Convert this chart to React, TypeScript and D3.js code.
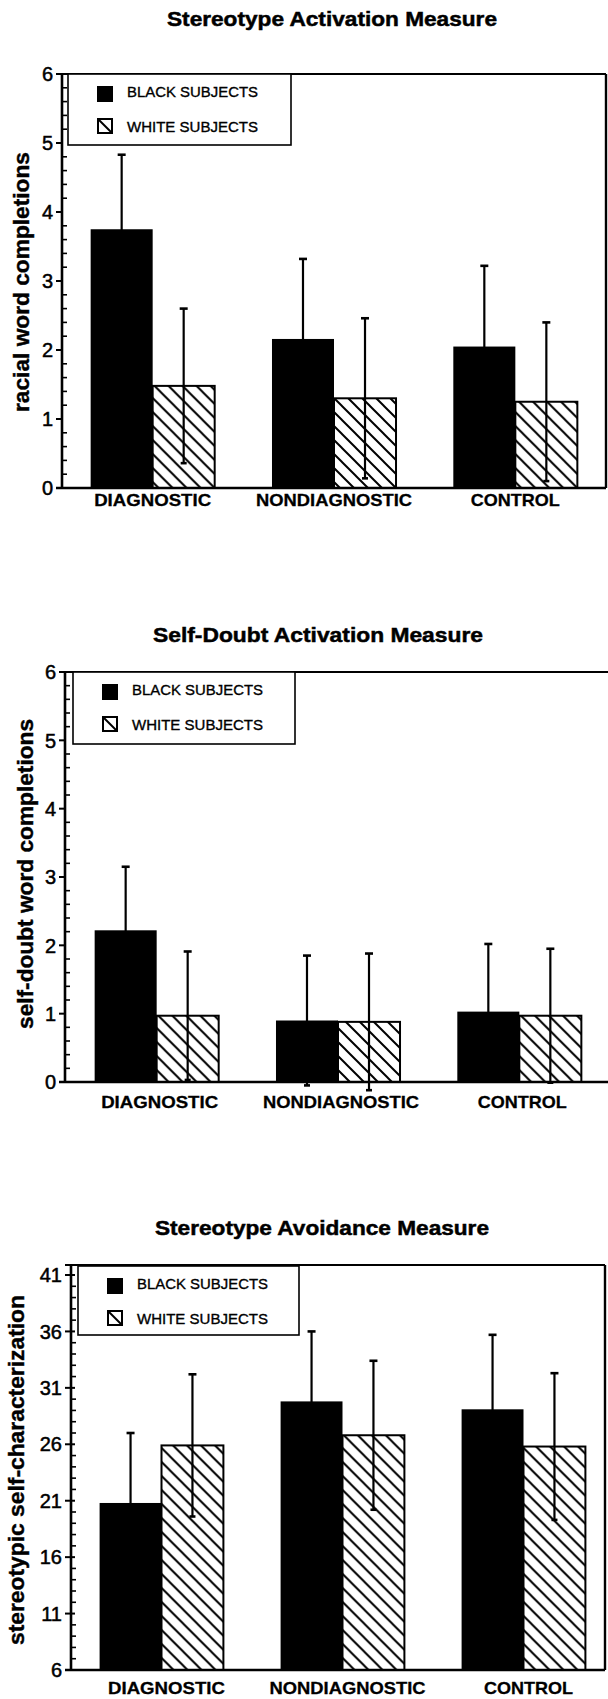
import React from 'react';
import * as d3 from 'd3';

const categories = ['DIAGNOSTIC', 'NONDIAGNOSTIC', 'CONTROL'];
const seriesNames = ['BLACK SUBJECTS', 'WHITE SUBJECTS'];

// Stereotype activation: racial word completions
const activationBlack = [3.75, 2.16, 2.05];
const activationBlackSD = [1.08, 1.16, 1.17];
const activationWhite = [1.48, 1.3, 1.25];
const activationWhiteSD = [1.12, 1.16, 1.15];
const activationTicks = [0, 1, 2, 3, 4, 5, 6];

// Self-doubt activation: self-doubt word completions
const doubtBlack = [2.22, 0.9, 1.03];
const doubtBlackSD = [0.93, 0.95, 0.99];
const doubtWhite = [0.97, 0.88, 0.97];
const doubtWhiteSD = [0.94, 1.0, 0.98];
const doubtTicks = [0, 1, 2, 3, 4, 5, 6];

// Stereotype avoidance: stereotypic self-characterization
const avoidBlack = [20.8, 29.8, 29.1];
const avoidBlackSD = [6.2, 6.2, 6.6];
const avoidWhite = [25.9, 26.8, 25.8];
const avoidWhiteSD = [6.3, 6.6, 6.5];
const avoidTicks = [6, 11, 16, 21, 26, 31, 36, 41];

const FONT = '"Liberation Sans", Arial, Helvetica, sans-serif';
const catLengths = [117, 156, 89];

interface Layout {
  axisX: number;
  right: number;
  frameTop: number;
  y0: number;
  y1: number;
  band: [number, number];
  titleX: number;
  titleY: number;
  titleLen: number;
  yLabelX: number;
  yLabelY: number;
  yLabelLen: number;
  catY: number;
  catDx: number;
  legend: { x: number; y: number; w: number; h: number };
  rightBorder: boolean;
  minorStep: number;
  crossTicks: boolean;
}

interface ChartProps {
  id: string;
  title: string;
  yLabel: string;
  ticks: number[];
  black: number[];
  blackSD: number[];
  white: number[];
  whiteSD: number[];
  L: Layout;
}

const Chart: React.FC<ChartProps> = ({ id, title, yLabel, ticks, black, blackSD, white, whiteSD, L }) => {
  const lo = ticks[0];
  const hi = ticks[ticks.length - 1];
  const y = d3.scaleLinear().domain([lo, hi]).range([L.y0, L.y1]);
  const x0 = d3.scaleBand<string>().domain(categories).range(L.band).paddingInner(0.316).paddingOuter(0.158);
  const x1 = d3.scaleBand<string>().domain(seriesNames).range([0, x0.bandwidth()]);
  const minor = d3.range(lo, hi + 1e-6, L.minorStep).filter(v => !ticks.some(t => Math.abs(t - v) < 1e-6));
  const series = [
    { name: seriesNames[0], means: black, sds: blackSD },
    { name: seriesNames[1], means: white, sds: whiteSD },
  ];
  const lg = L.legend;

  return (
    <g>
      <text x={L.titleX} y={L.titleY} textAnchor="middle" fontSize={21} fontWeight="bold" stroke="#000"
        strokeWidth={0.5} textLength={L.titleLen} lengthAdjust="spacingAndGlyphs">{title}</text>

      <text transform={`translate(${L.yLabelX + 7},${L.yLabelY}) rotate(-90)`} textAnchor="middle"
        fontSize={22} fontWeight="bold" stroke="#000" strokeWidth={0.4}
        textLength={L.yLabelLen} lengthAdjust="spacingAndGlyphs">{yLabel}</text>

      {/* bars */}
      {categories.map((c, i) => (
        <g key={c} transform={`translate(${x0(c)},0)`}>
          {series.map((s, j) => {
            const v = s.means[i];
            const bx = x1(s.name)!;
            const bw = x1.bandwidth();
            return j === 0 ? (
              <rect key={s.name} x={bx} y={y(v)} width={bw} height={L.y0 - y(v)} fill="#000" />
            ) : (
              <g key={s.name}>
                <rect x={bx} y={y(v)} width={bw} height={L.y0 - y(v)} fill="#fff" />
                <rect x={bx} y={y(v)} width={bw} height={L.y0 - y(v)} fill={`url(#hatch-${id})`}
                  stroke="#000" strokeWidth={2} />
              </g>
            );
          })}
          {series.map(s => {
            const v = s.means[i];
            const sd = s.sds[i];
            const cx = x1(s.name)! + x1.bandwidth() / 2;
            return (
              <g key={s.name + 'err'} stroke="#000">
                <line x1={cx} x2={cx} y1={y(v + sd)} y2={y(v - sd)} strokeWidth={2.2} />
                <line x1={cx - 4} x2={cx + 4} y1={y(v + sd)} y2={y(v + sd)} strokeWidth={2.6} />
                <line x1={cx - 3} x2={cx + 3} y1={y(v - sd)} y2={y(v - sd)} strokeWidth={2.6} />
              </g>
            );
          })}
        </g>
      ))}

      {/* frame */}
      <line x1={L.axisX - 6} x2={L.right} y1={L.frameTop} y2={L.frameTop} stroke="#000" strokeWidth={2.2} />
      <line x1={L.axisX - 6} x2={L.right} y1={L.y0} y2={L.y0} stroke="#000" strokeWidth={2.6} />
      {L.rightBorder && (
        <line x1={L.right} x2={L.right} y1={L.frameTop} y2={L.y0} stroke="#000" strokeWidth={2.4} />
      )}
      <line x1={L.axisX} x2={L.axisX} y1={L.frameTop} y2={L.y0} stroke="#000" strokeWidth={2.6} />

      {/* ticks */}
      {ticks.map(t => (
        <g key={t}>
          <line x1={L.axisX - 6} x2={L.axisX + (L.crossTicks ? 4 : 0)} y1={y(t)} y2={y(t)} stroke="#000" strokeWidth={2} />
          <text x={L.axisX - 9} y={y(t)} dy="0.36em" textAnchor="end" fontSize={20} stroke="#000"
            strokeWidth={0.5}>{t}</text>
        </g>
      ))}
      {minor.map(t => (
        <line key={'m' + t} x1={L.axisX} x2={L.axisX + 5} y1={y(t)} y2={y(t)} stroke="#000" strokeWidth={1.6} />
      ))}

      {/* legend */}
      <rect x={lg.x} y={lg.y} width={lg.w} height={lg.h} fill="#fff" stroke="#000" strokeWidth={1.6} />
      <rect x={lg.x + 29} y={lg.y + 12} width={16} height={16} fill="#000" />
      <text x={lg.x + 59} y={lg.y + 18} dy="0.36em" fontSize={15} stroke="#000" strokeWidth={0.35}
        textLength={131} lengthAdjust="spacingAndGlyphs">{seriesNames[0]}</text>
      <rect x={lg.x + 30} y={lg.y + 45} width={14} height={14} fill="#fff" stroke="#000" strokeWidth={2} />
      <line x1={lg.x + 30} y1={lg.y + 45} x2={lg.x + 44} y2={lg.y + 59} stroke="#000" strokeWidth={2} />
      <text x={lg.x + 59} y={lg.y + 53} dy="0.36em" fontSize={15} stroke="#000" strokeWidth={0.35}
        textLength={131} lengthAdjust="spacingAndGlyphs">{seriesNames[1]}</text>

      {/* category labels */}
      {categories.map((c, i) => (
        <text key={c} x={x0(c)! + x0.bandwidth() / 2 + L.catDx} y={L.catY} textAnchor="middle" fontSize={17}
          fontWeight="bold" stroke="#000" strokeWidth={0.3}
          textLength={catLengths[i]} lengthAdjust="spacingAndGlyphs">{c}</text>
      ))}
    </g>
  );
};

const layouts: Layout[] = [
  {
    axisX: 62, right: 606, frameTop: 74, y0: 488, y1: 74, band: [62, 606],
    titleX: 332, titleY: 26, titleLen: 330, yLabelX: 22, yLabelY: 282, yLabelLen: 260,
    catY: 506, catDx: 0, legend: { x: 68, y: 74, w: 223, h: 71 }, rightBorder: true,
    minorStep: 0.2, crossTicks: false,
  },
  {
    axisX: 65, right: 608, frameTop: 672, y0: 1082, y1: 672, band: [66, 610],
    titleX: 318, titleY: 642, titleLen: 330, yLabelX: 26, yLabelY: 874, yLabelLen: 310,
    catY: 1108, catDx: 3, legend: { x: 73, y: 672, w: 222, h: 72 }, rightBorder: false,
    minorStep: 0.2, crossTicks: false,
  },
  {
    axisX: 71, right: 605, frameTop: 1265, y0: 1670, y1: 1275, band: [71, 614],
    titleX: 322, titleY: 1235, titleLen: 334, yLabelX: 17, yLabelY: 1470, yLabelLen: 350,
    catY: 1694, catDx: 5, legend: { x: 78, y: 1266, w: 221, h: 69 }, rightBorder: true,
    minorStep: 1, crossTicks: true,
  },
];

export default function App() {
  return (
    <div style={{ position: 'absolute', left: 0, top: 0, background: '#fff' }}>
      <svg width={608} height={1699} viewBox="0 0 608 1699" style={{ display: 'block', fontFamily: FONT }}>
        <defs>
          {['a', 'b', 'c'].map(id => (
            <pattern key={id} id={`hatch-${id}`} patternUnits="userSpaceOnUse" width={14} height={14}>
              <path d="M0,0 L14,14 M-3,11 L3,17 M11,-3 L17,3" stroke="#000" strokeWidth={2} />
            </pattern>
          ))}
        </defs>
        <rect width={608} height={1699} fill="#fff" />
        <Chart id="a" title="Stereotype Activation Measure" yLabel="racial word completions" ticks={activationTicks}
          black={activationBlack} blackSD={activationBlackSD} white={activationWhite} whiteSD={activationWhiteSD}
          L={layouts[0]} />
        <Chart id="b" title="Self-Doubt Activation Measure" yLabel="self-doubt word completions" ticks={doubtTicks}
          black={doubtBlack} blackSD={doubtBlackSD} white={doubtWhite} whiteSD={doubtWhiteSD}
          L={layouts[1]} />
        <Chart id="c" title="Stereotype Avoidance Measure" yLabel="stereotypic self-characterization" ticks={avoidTicks}
          black={avoidBlack} blackSD={avoidBlackSD} white={avoidWhite} whiteSD={avoidWhiteSD}
          L={layouts[2]} />
      </svg>
    </div>
  );
}
